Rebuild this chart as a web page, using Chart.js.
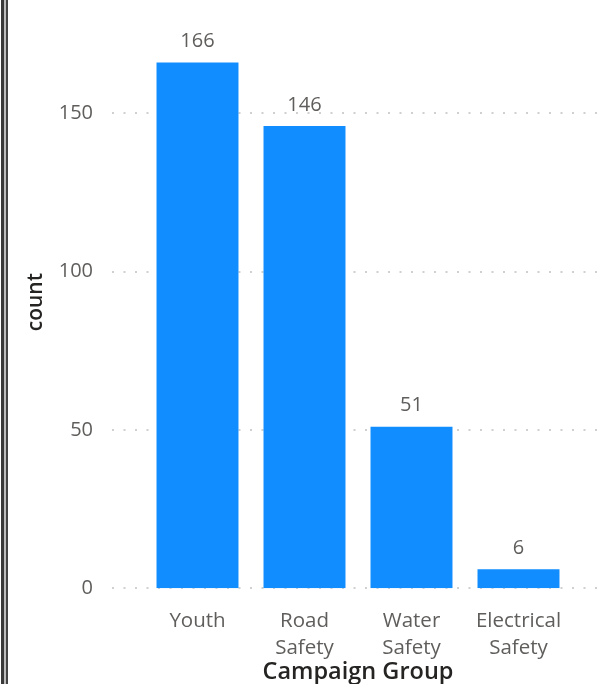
<!DOCTYPE html>
<html>
<head>
<meta charset="utf-8">
<script src="https://cdn.jsdelivr.net/npm/chart.js@4"></script>
<style>
    html, body { margin: 0; padding: 0; background: #fff; }
    #wrap { position: relative; width: 605px; height: 684px; }
    #edge1 { position: absolute; left: 1px; top: 0; width: 3px; height: 684px; background: #3a3a3a; }
    #edge2 { position: absolute; left: 4px; top: 0; width: 2px; height: 684px; background: #bdbdbd; }
    #edge3 { position: absolute; left: 6px; top: 0; width: 2px; height: 684px; background: #444; }
</style>
</head>
<body>
<div id="wrap">
    <canvas id="campaignChart" width="605" height="684"></canvas>
    <div id="edge1"></div><div id="edge2"></div><div id="edge3"></div>
</div>
<script>
// Chart data
const categories = [['Youth'], ['Road', 'Safety'], ['Water', 'Safety'], ['Electrical', 'Safety']];
const counts = [166, 146, 51, 6];
const yTicks = [0, 50, 100, 150];

const textGray = '#605E5C';
const fontFamily = "'Open Sans', 'DejaVu Sans', sans-serif";

// Dotted grid lines that run past the plot area, like Power BI
const dottedGrid = {
    id: 'dottedGrid',
    beforeDatasetsDraw(chart) {
        const ctx = chart.ctx;
        const y = chart.scales.y;
        ctx.save();
        ctx.strokeStyle = '#d0d0d0';
        ctx.lineWidth = 2;
        ctx.setLineDash([2, 9.5]);
        yTicks.forEach(v => {
            const py = Math.round(y.getPixelForValue(v));
            ctx.beginPath();
            ctx.moveTo(112, py);
            ctx.lineTo(603, py);
            ctx.stroke();
        });
        ctx.restore();
    }
};

// Value labels above each bar
const barLabels = {
    id: 'barLabels',
    afterDatasetsDraw(chart) {
        const ctx = chart.ctx;
        const meta = chart.getDatasetMeta(0);
        ctx.save();
        ctx.fillStyle = textGray;
        ctx.font = '20px ' + fontFamily;
        ctx.textAlign = 'center';
        ctx.textBaseline = 'middle';
        meta.data.forEach((bar, i) => {
            ctx.fillText(String(counts[i]), bar.x, bar.y - 21);
        });
        ctx.restore();
    }
};

new Chart(document.getElementById('campaignChart'), {
    type: 'bar',
    data: {
        labels: categories,
        datasets: [{
            label: 'count',
            data: counts,
            backgroundColor: '#118DFF',
            borderWidth: 0,
            categoryPercentage: 1,
            barPercentage: 0.766
        }]
    },
    options: {
        responsive: false,
        animation: false,
        layout: {
            padding: { top: 16, right: 33, bottom: 0, left: 0 }
        },
        plugins: {
            legend: { display: false },
            tooltip: { enabled: false }
        },
        scales: {
            y: {
                min: 0,
                max: 180.7,
                afterFit(scale) {
                    scale.width = 144;
                    // tick padding would otherwise push the plot top down
                    scale.paddingTop = 0;
                    scale.paddingBottom = 0;
                },
                afterBuildTicks(scale) {
                    scale.ticks = yTicks.map(v => ({ value: v }));
                },
                grid: { display: false, drawTicks: false },
                border: { display: false },
                ticks: {
                    padding: 51,
                    color: textGray,
                    font: { family: fontFamily, size: 20 }
                },
                title: {
                    display: true,
                    text: 'count',
                    color: '#252423',
                    font: { family: fontFamily, size: 21, weight: 600 },
                    padding: { top: 23, bottom: 0 }
                }
            },
            x: {
                grid: { display: false, drawTicks: false },
                border: { display: false },
                ticks: {
                    padding: 20,
                    maxRotation: 0,
                    autoSkip: false,
                    color: textGray,
                    font: { family: fontFamily, size: 20.5, lineHeight: 1.3 }
                },
                title: {
                    display: true,
                    text: 'Campaign Group',
                    color: '#252423',
                    font: { family: fontFamily, size: 23.5, weight: 600, lineHeight: 1 },
                    padding: { top: -21, bottom: 0 }
                }
            }
        }
    },
    plugins: [dottedGrid, barLabels]
});
</script>
</body>
</html>
